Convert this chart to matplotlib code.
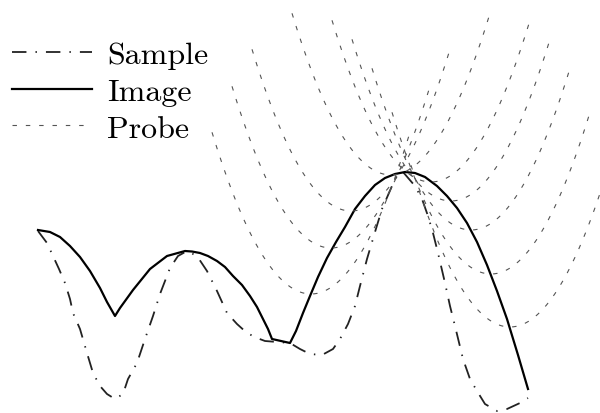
import numpy as np
import matplotlib
matplotlib.use("Agg")
import matplotlib.pyplot as plt

# sample surface (pixel-like coords, y grows downward)
sample_x = [38, 47, 53, 59, 65, 70, 73, 80, 87, 93, 100, 107, 115, 123, 128, 137, 145, 153,
            160, 170, 178, 187, 197, 207, 217, 227, 237, 247, 257, 265, 290, 300, 310, 322,
            333, 340, 348, 355, 360, 367, 375, 382, 392, 397, 403, 415, 422, 428, 433, 438,
            445, 450, 455, 463, 470, 477, 485, 497, 507, 520, 528]
sample_y = [232, 244, 257, 270, 284, 300, 314, 330, 354, 374, 387, 395, 400, 395, 380, 364, 340, 317,
            295, 269, 257, 252, 257, 272, 292, 314, 325, 334, 339, 342, 344, 350, 355, 356,
            350, 340, 325, 307, 287, 260, 233, 210, 187, 177, 173, 187, 200, 217, 234, 254,
            284, 307, 327, 360, 380, 392, 405, 412, 410, 404, 399]

# image recorded by the probe apex
image_x = [38, 50, 60, 70, 80, 90, 100, 107, 115, 120, 133, 150, 167, 185, 192, 200, 208,
           217, 225, 233, 242, 250, 257, 263, 268, 272, 290, 296, 303, 310, 318, 327, 336,
           345, 355, 365, 375, 385, 395, 405, 415, 425, 437, 447, 457, 467, 477, 487, 497,
           507, 518, 528]
image_y = [231, 233, 238, 247, 258, 272, 289, 303, 317, 309, 291, 270, 257, 252, 252.5, 254, 257,
           262, 268, 277, 286, 297, 308, 320, 330, 340, 344, 332, 314, 297, 278, 259, 243,
           228, 210, 197, 186, 179, 175, 173, 174, 178, 187, 197, 209, 224, 243, 266, 292,
           320, 356, 390]

# probe apex positions
probe_x = [311, 331, 351, 391, 431, 451, 471, 491, 510]
probe_y = [295, 249, 212, 176, 183, 202, 231, 275, 328]
probe_k = 0.0165
probe_w = 99

plt.rcParams['font.family'] = ['cmr10', 'DejaVu Serif']
plt.rcParams['axes.formatter.use_mathtext'] = True

fig = plt.figure(figsize=(6, 4.14), dpi=100)
ax = fig.add_axes([0, 0, 1, 1])

ax.plot(sample_x, sample_y, color='#222222', lw=1.3,
        linestyle=(0, (8, 5, 0.8, 5)), label='Sample')
ax.plot(image_x, image_y, color='black', lw=1.6, label='Image')

for i, (xv, yv) in enumerate(zip(probe_x, probe_y)):
    xs = np.linspace(xv - probe_w, xv + probe_w, 200)
    ys = yv - probe_k * (xs - xv) ** 2
    ax.plot(xs, ys, color='#555555', lw=0.8, linestyle=(0, (4, 8)),
            label='Probe' if i == 0 else None)

ax.set_xlim(0, 600)
ax.set_ylim(414, 0)
ax.axis('off')

ax.legend(loc='upper left', bbox_to_anchor=(0.02, 0.899), frameon=False, fontsize=23,
          handlelength=2.5, handletextpad=0.47, labelspacing=0.26,
          borderpad=0, borderaxespad=0)

fig.savefig('out.png', dpi=100)
